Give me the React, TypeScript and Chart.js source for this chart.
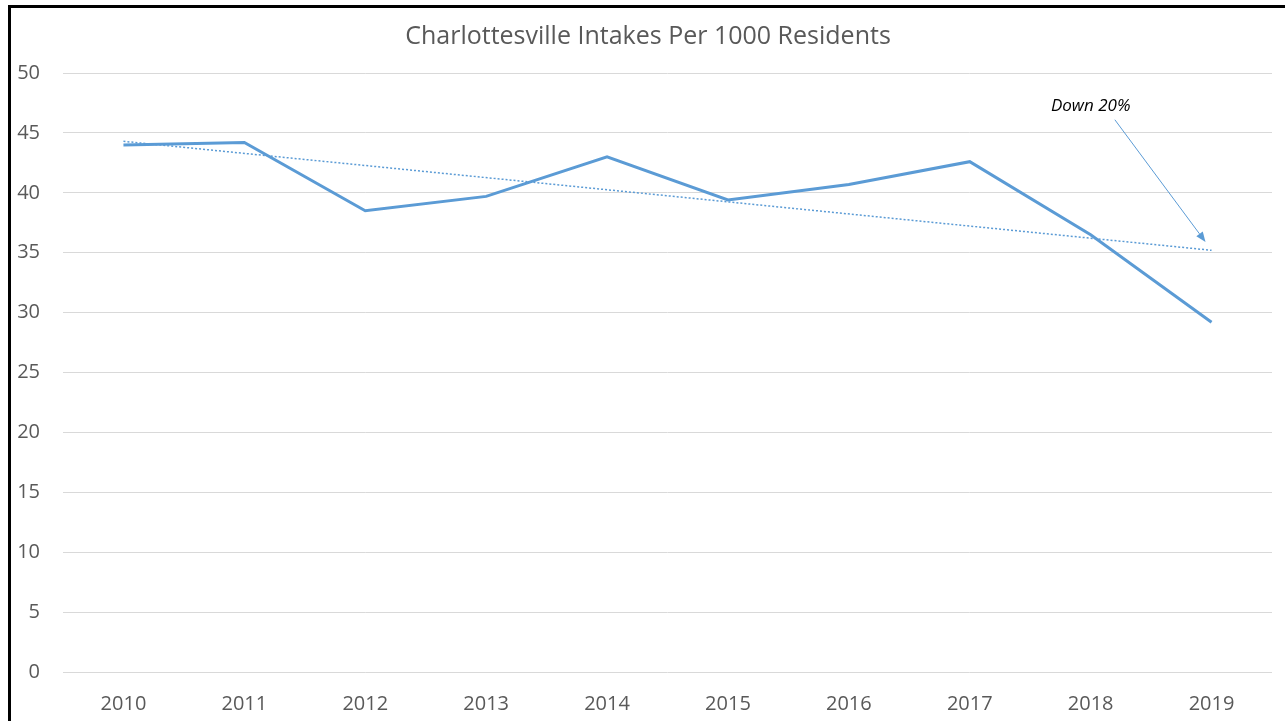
import React, { useEffect, useRef } from "react";
import { Chart, registerables } from "chart.js";

Chart.register(...registerables);

const years = ["2010", "2011", "2012", "2013", "2014", "2015", "2016", "2017", "2018", "2019"];
const intakes = [44.0, 44.2, 38.5, 39.7, 43.0, 39.4, 40.7, 42.6, 36.5, 29.2];
const trendline = [44.3, null, null, null, null, null, null, null, null, 35.2];
const yTicks = { min: 0, max: 50, step: 5 };
const titleText = "Charlottesville Intakes Per 1000 Residents";
const noteText = "Down 20%";
const notePos = [8.0, 47.2];
const arrowFrom = [8.2, 46.1];
const arrowTo = [8.95, 35.9];

const BLUE = "#5B9BD5";
const GREY = "#595959";
const FONT = "'Open Sans', 'Noto Sans', sans-serif";

const notePlugin = {
  id: "note",
  afterDatasetsDraw(chart: any) {
    const { ctx } = chart;
    const xs = chart.scales.x;
    const ys = chart.scales.y;
    ctx.save();
    ctx.font = `italic 17px ${FONT}`;
    ctx.fillStyle = "#000";
    ctx.textAlign = "center";
    ctx.textBaseline = "middle";
    ctx.fillText(noteText, xs.getPixelForValue(notePos[0]), ys.getPixelForValue(notePos[1]));
    const x1 = xs.getPixelForValue(arrowFrom[0]);
    const y1 = ys.getPixelForValue(arrowFrom[1]);
    const x2 = xs.getPixelForValue(arrowTo[0]);
    const y2 = ys.getPixelForValue(arrowTo[1]);
    const ang = Math.atan2(y2 - y1, x2 - x1);
    const head = 10;
    const hw = 4;
    const bx = x2 - head * Math.cos(ang);
    const by = y2 - head * Math.sin(ang);
    ctx.strokeStyle = BLUE;
    ctx.lineWidth = 1;
    ctx.beginPath();
    ctx.moveTo(x1, y1);
    ctx.lineTo(bx, by);
    ctx.stroke();
    ctx.fillStyle = BLUE;
    ctx.beginPath();
    ctx.moveTo(x2, y2);
    ctx.lineTo(bx + hw * Math.sin(ang), by - hw * Math.cos(ang));
    ctx.lineTo(bx - hw * Math.sin(ang), by + hw * Math.cos(ang));
    ctx.closePath();
    ctx.fill();
    ctx.restore();
  },
};

export default function App() {
  const ref = useRef<HTMLCanvasElement | null>(null);
  useEffect(() => {
    if (!ref.current) return;
    const chart = new Chart(ref.current, {
      type: "line",
      data: {
        labels: years,
        datasets: [
          {
            label: "Intakes",
            data: intakes,
            borderColor: BLUE,
            backgroundColor: BLUE,
            borderWidth: 3,
            pointRadius: 0,
            tension: 0,
            order: 2,
          },
          {
            label: "Trend",
            data: trendline as any,
            borderColor: BLUE,
            borderWidth: 1.5,
            borderDash: [2, 2],
            pointRadius: 0,
            spanGaps: true,
            order: 1,
          },
        ],
      },
      options: {
        animation: false,
        responsive: false,
        maintainAspectRatio: false,
        layout: { padding: { left: 0, right: 0, top: 0, bottom: 0 } },
        plugins: {
          legend: { display: false },
          tooltip: { enabled: false },
          title: {
            display: true,
            text: titleText,
            color: GREY,
            font: { family: FONT, size: 25, weight: "normal" as any },
            padding: { top: 14, bottom: 21 },
          },
        },
        scales: {
          x: {
            offset: true,
            grid: { display: false },
            border: { display: false },
            ticks: { color: GREY, font: { family: FONT, size: 20 }, padding: 12, maxRotation: 0 },
            afterFit: (s: any) => {
              s.height = 49;
            },
          },
          y: {
            min: yTicks.min,
            max: yTicks.max,
            grid: { color: "#d9d9d9", lineWidth: 1, drawTicks: false },
            border: { display: false },
            ticks: { stepSize: yTicks.step, color: GREY, font: { family: FONT, size: 20 }, padding: 23 },
            afterFit: (s: any) => {
              s.width = 52;
            },
          },
          spacer: {
            type: "linear",
            position: "right",
            display: true,
            grid: { display: false },
            border: { display: false },
            ticks: { display: false },
            afterFit: (s: any) => {
              s.width = 13;
            },
          },
        },
      },
      plugins: [notePlugin],
    });
    return () => chart.destroy();
  }, []);
  return (
    <div
      style={{
        position: "fixed",
        left: 8,
        top: 5,
        width: 1300,
        height: 740,
        borderLeft: "3px solid #000",
        borderTop: "3px solid #000",
        background: "#fff",
        overflow: "hidden",
      }}
    >
      <canvas ref={ref} width={1274} height={713} style={{ display: "block" }} />
    </div>
  );
}
